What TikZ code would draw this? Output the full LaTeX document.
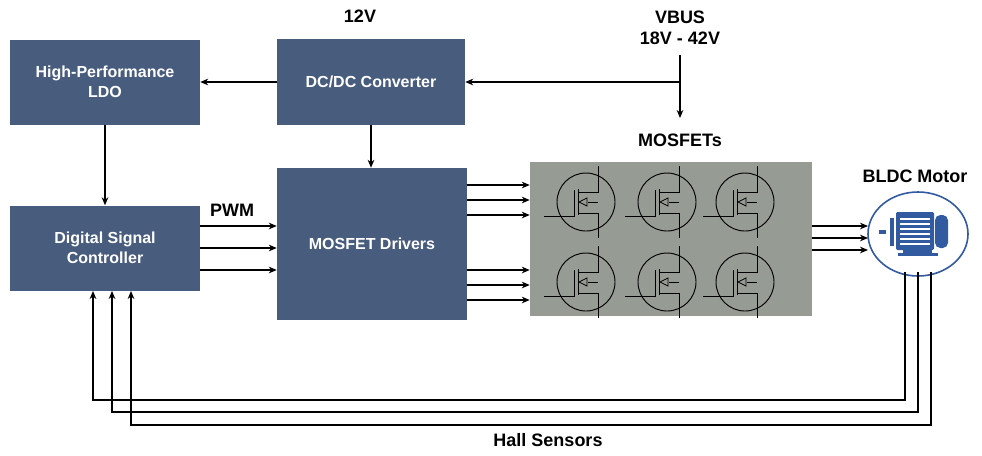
\documentclass[tikz,border=0pt]{standalone}
\usepackage{fontspec}
\setmainfont{Liberation Sans}
\usetikzlibrary{arrows.meta,shapes.geometric}
\definecolor{boxc}{RGB}{72,92,126}
\definecolor{grayc}{RGB}{150,155,148}
\definecolor{motc}{RGB}{50,90,160}
\begin{document}
\begin{tikzpicture}[x=0.75pt,y=-0.75pt,
  blk/.style={draw=none,fill=boxc,text=white,font=\fontsize{12}{15}\selectfont\bfseries,align=center,inner sep=0pt},
  lbl/.style={font=\fontsize{13.5}{16}\selectfont\bfseries,align=center},
  arr/.style={-{Stealth[length=6pt,width=5pt]},line width=0.8pt},
  ln/.style={line width=0.8pt}]
\useasboundingbox (0,0) rectangle (982,455);
\fill[white] (0,0) rectangle (982,455);
\node[blk,minimum width=142.5pt,minimum height=63.75pt] (ldo) at (105,82) {High-Performance\\LDO};
\node[blk,minimum width=141pt,minimum height=64.5pt] (dcdc) at (371,82) {DC/DC Converter};
\node[blk,minimum width=142.5pt,minimum height=63.75pt] (dsc) at (105,248) {Digital Signal\\Controller};
\node[blk,minimum width=142.5pt,minimum height=114pt] (drv) at (372,244) {MOSFET Drivers};
\node[fill=grayc,minimum width=211.5pt,minimum height=115.5pt,inner sep=0pt] (mos) at (671,239) {};
\node[draw=motc,line width=1.2pt,fill=white,ellipse,minimum width=75pt,minimum height=63pt,inner sep=0pt] (mot) at (918,234) {};
\node[lbl] (v12) at (360,16) {12V};
\node[lbl] (vbus) at (680,28) {VBUS\\18V - 42V};
\node[lbl] (mlbl) at (680,140) {MOSFETs};
\node[lbl] (blbl) at (915,176) {BLDC Motor};
\node[lbl] (pwm) at (232,210) {PWM};
\node[lbl] (hall) at (548,440) {Hall Sensors};
% MOSFET symbols
\foreach \cx/\cy in {586/202,667/202,745/202,586/282,667/282,745/282}{
  \draw[line width=0.7pt] (\cx,\cy) circle[radius=29];
  \draw[line width=0.7pt] (\cx-42,\cy+14) -- (\cx-12,\cy+14) -- (\cx-12,\cy-12);
  \draw[line width=0.7pt] (\cx-8,\cy-13) -- (\cx-8,\cy+13);
  \draw[line width=0.7pt] (\cx-8,\cy-10) -- (\cx+12,\cy-10) -- (\cx+12,\cy-36);
  \draw[line width=0.7pt] (\cx-8,\cy+11) -- (\cx+12,\cy+11) -- (\cx+12,\cy+36);
  \draw[line width=0.7pt] (\cx+12,\cy) -- (\cx+2,\cy);
  \draw[line width=0.6pt] (\cx-7,\cy) -- (\cx+1,\cy-4) -- (\cx+1,\cy+4) -- cycle;
}
% motor icon
\fill[motc] (879,230) rectangle (886,234);
\fill[motc] (890,218) rectangle (894,246);
\fill[motc,rounded corners=1pt] (896,212) rectangle (934,250);
\foreach \yy in {218,223,228,233,238,243}{\fill[white] (900,\yy) rectangle (930,\yy+2);}
\fill[motc,rounded corners=4pt] (935,215) rectangle (948,248);
\fill[motc] (903,250) rectangle (932,253);
\fill[motc] (898,253) rectangle (938,256);
% connectors
\draw[arr] (dcdc.west) -- (ldo.east);
\coordinate (vtop) at (680,55);
\coordinate (vj) at (680,82);
\coordinate (vend) at (680,118);
\draw[ln] (vtop) -- (vj);
\draw[arr] (vj) -- (dcdc.east);
\draw[arr] (vj) -- (vend);
\draw[arr] (dcdc.south) -- (dcdc.south |- drv.north);
\draw[arr] (ldo.south) -- (dsc.north);
\foreach \yy in {226,248,270}{\draw[arr] (dsc.east |- 0,\yy) -- (drv.west |- 0,\yy);}
\foreach \yy in {185,200,215,270,285,300}{\draw[arr] (drv.east |- 0,\yy) -- (mos.west |- 0,\yy);}
\foreach \yy in {226,238,250}{\draw[arr] (mos.east |- 0,\yy) -- (868,\yy);}
\foreach \mx/\dx/\hy in {905/93/400,918/112/412,931/131/425}{
  \draw[arr] (\mx,272) -- (\mx,\hy) -- (\dx,\hy) -- (\dx,291);
}
\end{tikzpicture}
\end{document}
